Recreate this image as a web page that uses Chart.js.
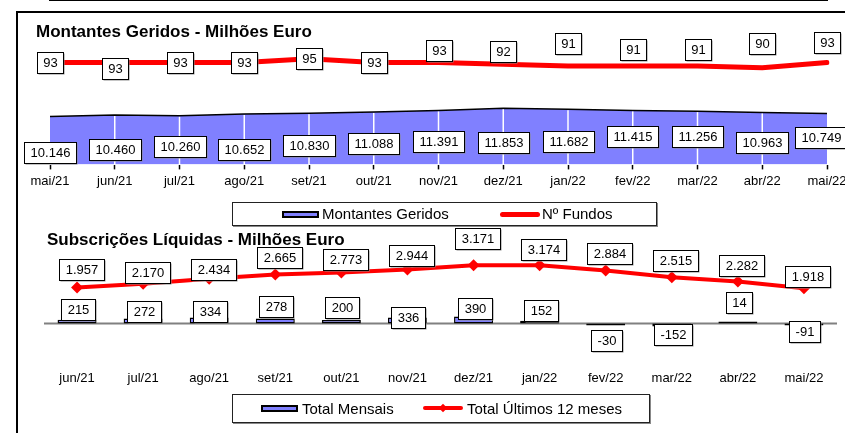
<!DOCTYPE html>
<html>
<head>
<meta charset="utf-8">
<script src="https://cdn.jsdelivr.net/npm/chart.js@4.4.1/dist/chart.umd.min.js"></script>
<style>
body { margin: 0; width: 845px; height: 433px; overflow: hidden; position: relative; background: #fff; font-family: "Liberation Sans", Arial, sans-serif; }
.abs { position: absolute; }
#frame { left: 16px; top: 11px; width: 900px; height: 500px; border-left: 2px solid #000; border-top: 2px solid #000; }
.title { font-weight: bold; font-size: 17px; line-height: 20px; color: #000; white-space: nowrap; }
.legend-box { box-sizing: border-box; border: 1px solid #222; box-shadow: 1px 1px 0 #888; background: #fff; }
.legend-text { font-size: 15px; white-space: nowrap; color: #000; }
.icon-rect { box-sizing: border-box; background: #8080ff; border: 2px solid #000; }
.icon-line { background: #ff0000; border-radius: 3px; }
.icon-diamond { background: #ff0000; transform: rotate(45deg); }
canvas { position: absolute; left: 0; }
</style>
</head>
<body>
<div id="frame" class="abs"></div>

<canvas id="topChart" width="880" height="200" style="top:0px"></canvas>
<canvas id="bottomChart" width="880" height="180" style="top:220px"></canvas>

<div class="abs title" style="left:36px; top:22px">Montantes Geridos - Milhões Euro</div>
<div class="abs title" style="left:47px; top:230px">Subscrições Líquidas - Milhões Euro</div>

<!-- legend, top panel -->
<div class="abs legend-box" style="left:232px; top:202px; width:425px; height:24px"></div>
<div class="abs icon-rect" style="left:282px; top:211px; width:37px; height:7px"></div>
<div class="abs legend-text" style="left:322px; top:202px; line-height:24px">Montantes Geridos</div>
<div class="abs icon-line" style="left:500px; top:212px; width:40px; height:5px"></div>
<div class="abs legend-text" style="left:542px; top:202px; line-height:24px">Nº Fundos</div>

<!-- legend, bottom panel -->
<div class="abs legend-box" style="left:232px; top:394px; width:418px; height:29px"></div>
<div class="abs icon-rect" style="left:261px; top:405px; width:37px; height:7px"></div>
<div class="abs legend-text" style="left:302px; top:394px; line-height:29px">Total Mensais</div>
<div class="abs icon-line" style="left:423px; top:406px; width:40px; height:4px"></div>
<div class="abs icon-diamond" style="left:440px; top:405px; width:6px; height:6px"></div>
<div class="abs legend-text" style="left:467px; top:394px; line-height:29px">Total Últimos 12 meses</div>

<script>
// top panel data
const topMonths = ['mai/21', 'jun/21', 'jul/21', 'ago/21', 'set/21', 'out/21', 'nov/21',
    'dez/21', 'jan/22', 'fev/22', 'mar/22', 'abr/22', 'mai/22'];
const montantes = [10146, 10460, 10260, 10652, 10830, 11088, 11391, 11853, 11682, 11415, 11256, 10963, 10749];
const nFundos = [93, 93, 93, 93, 95, 93, 93, 92, 91, 91, 91, 90, 93];

// bottom panel data
const bottomMonths = ['jun/21', 'jul/21', 'ago/21', 'set/21', 'out/21', 'nov/21',
    'dez/21', 'jan/22', 'fev/22', 'mar/22', 'abr/22', 'mai/22'];
const totalMensais = [215, 272, 334, 278, 200, 336, 390, 152, -30, -152, 14, -91];
const total12m = [1957, 2170, 2434, 2665, 2773, 2944, 3171, 3174, 2884, 2515, 2282, 1918];

// label box nudges (pixels), the original labels were placed by hand
const fundosLabelDy = [0, 6, 0, 0, 0, 0, -12, -13, -22, -16, -16, -24, -20];
const montantesLabelDy = [36, 35, 31, 35, 32, 32, 31, 34, 32, 26, 25, 30, 24];
const total12LabelDy = [-18, -11, -9, -17, -13, -14, -27, -16, -17, -17, -16, -12];
const mensaisLabelDy = [-10, -7, -6, -12, -12, 0, -8, -10, 15, 8, -19, 6];

const FONT = '"Liberation Sans", Arial, sans-serif';

function fmt(v) {
    return String(v).replace(/\B(?=(\d{3})+(?!\d))/g, '.');
}

// boxed value labels
const boxLabels = {
    id: 'boxLabels',
    afterDraw(chart) {
        const ctx = chart.ctx;
        ctx.save();
        ctx.font = '13px ' + FONT;
        ctx.textAlign = 'center';
        ctx.textBaseline = 'middle';
        const sets = chart.data.datasets;
        for (let i = sets.length - 1; i >= 0; i--) {
            const ds = sets[i];
            if (!ds.boxLabel) continue;
            const meta = chart.getDatasetMeta(i);
            meta.data.forEach((el, j) => {
                const text = fmt(ds.data[j]);
                const w = Math.round(ctx.measureText(text).width) + 12;
                const h = 21;
                let x = el.x + (ds.boxLabel.dx || 0);
                const y = el.y + ds.boxLabel.dy[j];
                if (ds.boxLabel.maxRight) x = Math.min(x, ds.boxLabel.maxRight - w / 2);
                const left = Math.round(x - w / 2) + 0.5;
                const top = Math.round(y - h / 2) + 0.5;
                ctx.fillStyle = '#8c8c8c';
                ctx.fillRect(left + 1, top + 1, w, h);
                ctx.fillStyle = '#fff';
                ctx.fillRect(left, top, w, h);
                ctx.strokeStyle = '#000';
                ctx.lineWidth = 1;
                ctx.strokeRect(left, top, w, h);
                ctx.fillStyle = '#000';
                ctx.fillText(text, left + w / 2, top + h / 2 + 0.5);
            });
        }
        ctx.restore();
    }
};

// white vertical lines inside the area, drawn before the red line
const areaGrid = {
    id: 'areaGrid',
    beforeDatasetDraw(chart, args) {
        if (args.index !== 0) return;
        const ctx = chart.ctx;
        const area = chart.getDatasetMeta(1).data;
        const bottom = chart.chartArea.bottom;
        ctx.save();
        ctx.strokeStyle = '#ffffff';
        ctx.lineWidth = 1.5;
        for (let j = 1; j < area.length - 1; j++) {
            ctx.beginPath();
            ctx.moveTo(area[j].x, bottom);
            ctx.lineTo(area[j].x, area[j].y + 1);
            ctx.stroke();
        }
        ctx.restore();
    }
};

// grey zero line of the bottom panel
const zeroLine = {
    id: 'zeroLine',
    beforeDatasetsDraw(chart) {
        const ctx = chart.ctx;
        const y0 = chart.scales.y.getPixelForValue(0);
        ctx.save();
        ctx.strokeStyle = '#808080';
        ctx.lineWidth = 2;
        ctx.beginPath();
        ctx.moveTo(chart.chartArea.left, y0);
        ctx.lineTo(chart.chartArea.right, y0);
        ctx.stroke();
        ctx.restore();
    }
};

document.addEventListener('DOMContentLoaded', function() {
    initTopChart();
    initBottomChart();
});

function initTopChart() {
    const ctx = document.getElementById('topChart').getContext('2d');
    new Chart(ctx, {
        type: 'line',
        data: {
            labels: topMonths,
            datasets: [{
                label: 'Nº Fundos',
                data: nFundos,
                yAxisID: 'y2',
                borderColor: '#ff0000',
                borderWidth: 5,
                borderCapStyle: 'round',
                pointRadius: 0,
                fill: false,
                order: 0,
                boxLabel: { dy: fundosLabelDy, dx: 0 }
            }, {
                label: 'Montantes Geridos',
                data: montantes,
                yAxisID: 'y',
                borderColor: '#000',
                borderWidth: 1.5,
                backgroundColor: '#8080ff',
                pointRadius: 0,
                fill: 'origin',
                order: 1,
                boxLabel: { dy: montantesLabelDy, dx: 0, maxRight: 847 }
            }]
        },
        options: {
            responsive: false,
            animation: false,
            layout: { padding: { left: 50, right: 53, top: 40, bottom: 7 } },
            plugins: {
                legend: { display: false },
                tooltip: { enabled: false },
                title: { display: false }
            },
            scales: {
                x: {
                    offset: false,
                    grid: {
                        drawOnChartArea: false,
                        drawTicks: true,
                        tickLength: 5,
                        tickColor: '#000',
                        tickWidth: 1.5,
                        z: 1
                    },
                    border: { color: '#000', width: 2 },
                    ticks: {
                        color: '#000',
                        font: { size: 13, family: FONT },
                        padding: 4,
                        autoSkip: false,
                        maxRotation: 0
                    }
                },
                y: { display: false, min: 0, max: 26300 },
                y2: { display: false, min: 36.5, max: 105.4 }
            }
        },
        plugins: [areaGrid, boxLabels]
    });
}

function initBottomChart() {
    const ctx = document.getElementById('bottomChart').getContext('2d');
    new Chart(ctx, {
        type: 'bar',
        data: {
            labels: bottomMonths,
            datasets: [{
                type: 'line',
                label: 'Total Últimos 12 meses',
                data: total12m,
                borderColor: '#ff0000',
                borderWidth: 4,
                pointStyle: 'rectRot',
                pointRadius: 6,
                pointBackgroundColor: '#ff0000',
                pointBorderColor: '#ff0000',
                pointBorderWidth: 0,
                fill: false,
                order: 0,
                boxLabel: { dy: total12LabelDy, dx: 4 }
            }, {
                label: 'Total Mensais',
                data: totalMensais,
                backgroundColor: '#8080ff',
                borderColor: '#000',
                borderWidth: 1.5,
                borderSkipped: false,
                minBarLength: 2,
                categoryPercentage: 1,
                barPercentage: 0.59,
                order: 1,
                boxLabel: { dy: mensaisLabelDy, dx: 1 }
            }]
        },
        options: {
            responsive: false,
            animation: false,
            layout: { padding: { left: 44, right: 43, top: 30, bottom: 4 } },
            plugins: {
                legend: { display: false },
                tooltip: { enabled: false },
                title: { display: false }
            },
            scales: {
                x: {
                    offset: true,
                    grid: { display: false, drawTicks: false },
                    border: { display: false },
                    ticks: {
                        color: '#000',
                        font: { size: 13, family: FONT },
                        padding: 10,
                        autoSkip: false,
                        maxRotation: 0
                    }
                },
                y: { display: false, min: -2000, max: 4000 }
            }
        },
        plugins: [zeroLine, boxLabels]
    });
}
</script>
</body>
</html>
